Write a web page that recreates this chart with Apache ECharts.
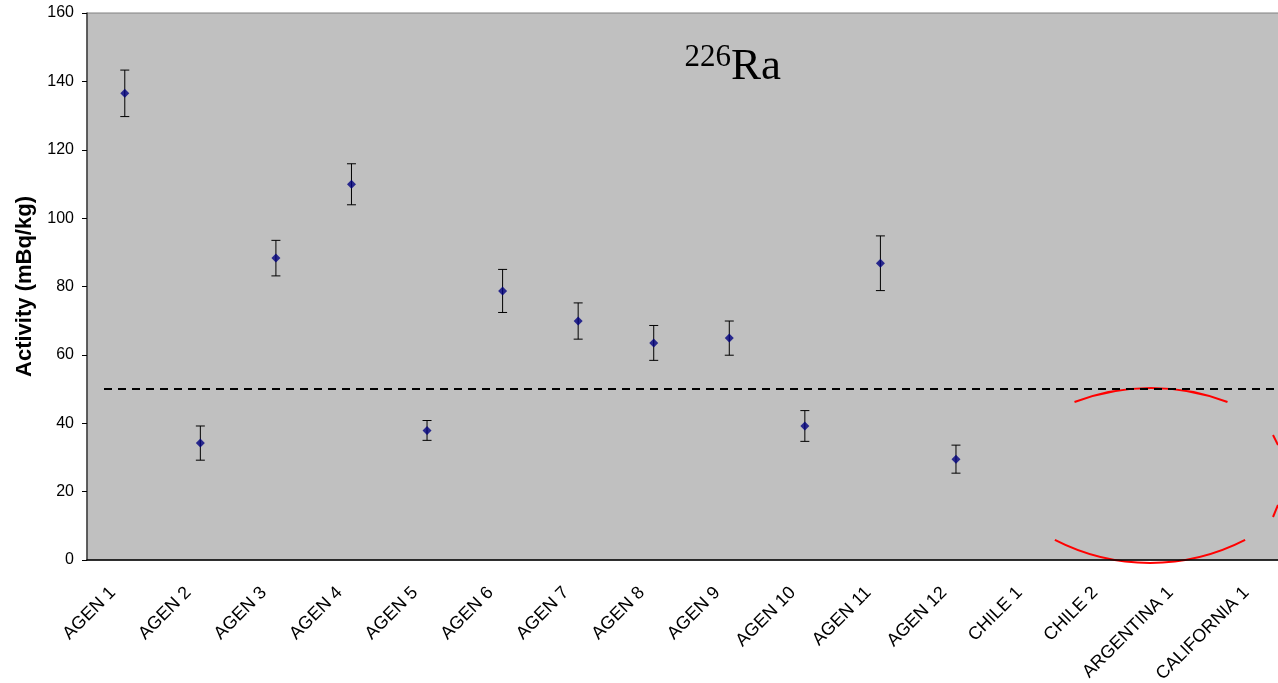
<!DOCTYPE html>
<html>
<head>
<meta charset="utf-8">
<script src="https://cdn.jsdelivr.net/npm/echarts@6/dist/echarts.min.js"></script>
<style>
html, body { margin: 0; padding: 0; background: #fff; }
#chart { width: 1278px; height: 683px; }
</style>
</head>
<body>
<div id="chart"></div>
<script>
// 226Ra activity per sample
var categories = ['AGEN 1', 'AGEN 2', 'AGEN 3', 'AGEN 4', 'AGEN 5', 'AGEN 6', 'AGEN 7', 'AGEN 8',
	'AGEN 9', 'AGEN 10', 'AGEN 11', 'AGEN 12', 'CHILE 1', 'CHILE 2', 'ARGENTINA 1', 'CALIFORNIA 1'];
var activity = [136.5, 34.2, 88.3, 109.9, 37.9, 78.7, 69.9, 63.5, 64.9, 39.2, 86.8, 29.5, null, null, null, null];
var errors = [6.8, 5.0, 5.2, 6.0, 2.9, 6.3, 5.3, 5.1, 5.0, 4.5, 8.0, 4.1, null, null, null, null];
var limitValue = 50;

var pointData = [];
var errorData = [];
for (var i = 0; i < categories.length; i++) {
	if (activity[i] == null) continue;
	pointData.push([i, activity[i]]);
	errorData.push([i, activity[i] - errors[i], activity[i] + errors[i]]);
}

var chart = echarts.init(document.getElementById('chart'));

var option = {
	animation: false,
	grid: {
		left: 87,
		top: 13,
		width: 1209,
		height: 547,
		outerBoundsMode: 'none',
		containLabel: false,
		show: true,
		backgroundColor: '#c0c0c0',
		borderColor: '#808080',
		borderWidth: 1
	},
	xAxis: {
		type: 'category',
		data: categories,
		boundaryGap: true,
		axisLine: { lineStyle: { color: '#000', width: 1.5 } },
		axisTick: { length: 5, lineStyle: { color: '#000' } },
		axisLabel: {
			interval: 0,
			rotate: 45,
			margin: 18,
			padding: [0, 17, 0, 0],
			fontFamily: 'Liberation Sans',
			fontSize: 18,
			color: '#000'
		},
		splitLine: { show: false }
	},
	yAxis: {
		type: 'value',
		min: 0,
		max: 160,
		interval: 20,
		name: 'Activity (mBq/kg)',
		nameLocation: 'middle',
		nameGap: 48,
		nameTextStyle: {
			fontFamily: 'Liberation Sans',
			fontWeight: 'bold',
			fontSize: 22,
			color: '#000'
		},
		axisLine: { show: true, lineStyle: { color: '#404040', width: 1.5 } },
		axisTick: { show: true, length: 5, lineStyle: { color: '#000' } },
		axisLabel: {
			margin: 13,
			fontFamily: 'Liberation Sans',
			fontSize: 16,
			color: '#000'
		},
		splitLine: { show: false }
	},
	graphic: [
		{
			type: 'text',
			x: 731,
			y: 58,
			style: {
				text: '226',
				font: '31px "Liberation Serif"',
				fill: '#000',
				textAlign: 'right',
				textVerticalAlign: 'middle'
			}
		},
		{
			type: 'text',
			x: 731,
			y: 67,
			style: {
				text: 'Ra',
				font: '45px "Liberation Serif"',
				fill: '#000',
				textAlign: 'left',
				textVerticalAlign: 'middle'
			}
		},
		// red hand-drawn ellipse round ARGENTINA 1
		{
			type: 'arc',
			shape: { cx: 1151, cy: 604, r: 216, startAngle: -Math.PI / 2 - 0.362, endAngle: -Math.PI / 2 + 0.362 },
			style: { stroke: '#ff0000', fill: null, lineWidth: 2 }
		},
		{
			type: 'arc',
			shape: { cx: 1150, cy: 355, r: 208, startAngle: Math.PI / 2 - 0.475, endAngle: Math.PI / 2 + 0.475 },
			style: { stroke: '#ff0000', fill: null, lineWidth: 2 }
		},
		{
			type: 'line',
			shape: { x1: 1273, y1: 435, x2: 1278, y2: 445 },
			style: { stroke: '#ff0000', lineWidth: 2 }
		},
		{
			type: 'line',
			shape: { x1: 1273, y1: 517, x2: 1278, y2: 505 },
			style: { stroke: '#ff0000', lineWidth: 2 }
		}
	],
	series: [
		{
			name: 'error',
			type: 'custom',
			silent: true,
			z: 3,
			renderItem: function (params, api) {
				var x = api.value(0);
				var lo = api.coord([x, api.value(1)]);
				var hi = api.coord([x, api.value(2)]);
				var cap = 4.5;
				var st = { stroke: '#000', lineWidth: 1 };
				return {
					type: 'group',
					children: [
						{ type: 'line', shape: { x1: lo[0], y1: lo[1], x2: hi[0], y2: hi[1] }, style: st },
						{ type: 'line', shape: { x1: lo[0] - cap, y1: lo[1], x2: lo[0] + cap, y2: lo[1] }, style: st },
						{ type: 'line', shape: { x1: hi[0] - cap, y1: hi[1], x2: hi[0] + cap, y2: hi[1] }, style: st }
					]
				};
			},
			encode: { x: 0, y: [1, 2] },
			data: errorData
		},
		{
			name: '226Ra',
			type: 'scatter',
			symbol: 'diamond',
			symbolSize: 9,
			z: 4,
			itemStyle: { color: '#000080' },
			data: pointData
		}
	]
};

chart.setOption(option);

// dashed limit line, starts a little right of the y axis like in the original
var limitY = chart.convertToPixel({ yAxisIndex: 0 }, limitValue);
chart.setOption({
	series: [{}, {
		markLine: {
			silent: true,
			symbol: 'none',
			label: { show: false },
			lineStyle: { color: '#000', type: [8, 6], width: 2 },
			data: [[{ x: 104, y: limitY }, { x: 1278, y: limitY }]]
		}
	}]
});
</script>
</body>
</html>
